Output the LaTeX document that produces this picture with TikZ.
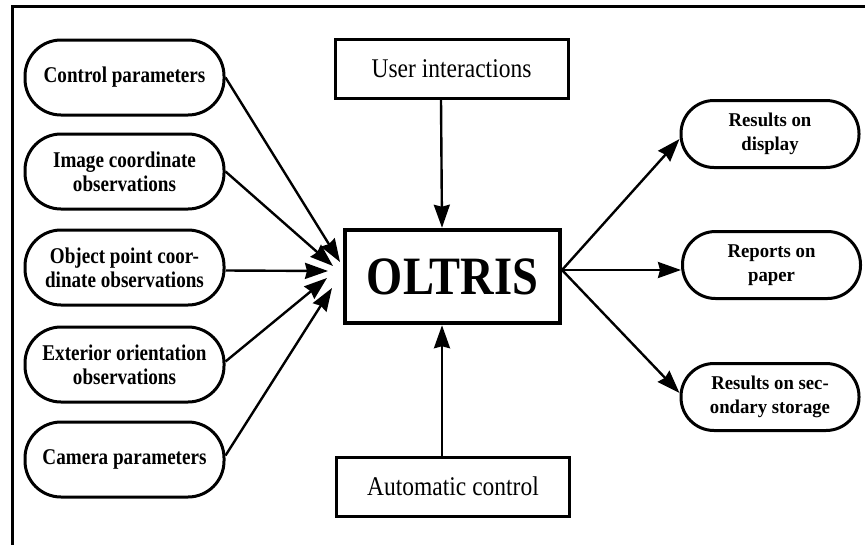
\documentclass[tikz,border=0pt]{standalone}
\usepackage{fontspec}
\setmainfont{Liberation Serif}
\newfontfamily\pillserif[FakeStretch=0.85]{Liberation Serif}
\newfontfamily\outserif[FakeStretch=0.96]{Liberation Serif}
\newfontfamily\boxserif[FakeStretch=0.87]{Liberation Serif}
\newfontfamily\coreserif[FakeStretch=0.86]{Liberation Serif}
\usetikzlibrary{arrows.meta}

\tikzset{
  inpill/.style={draw, line width=3pt, rounded corners=36pt,
    minimum width=199pt, minimum height=75pt, inner sep=0pt, align=center,
    font=\pillserif\bfseries\fontsize{22.5}{24}\selectfont},
  outpill/.style={draw, line width=3pt, rounded corners=33pt,
    minimum width=178pt, minimum height=67pt, inner sep=0pt, align=center,
    font=\outserif\bfseries\fontsize{19.5}{24}\selectfont},
  ctrlbox/.style={draw, line width=3pt, minimum width=233pt,
    minimum height=59pt, inner sep=0pt,
    font=\boxserif\fontsize{27}{30}\selectfont},
  corebox/.style={draw, line width=4.5pt, minimum width=215pt,
    minimum height=93pt, inner sep=0pt,
    font=\coreserif\bfseries\fontsize{54}{60}\selectfont},
  flow/.style={line width=2.4pt,
    -{Stealth[length=23pt 0,width=16pt 0,inset=2pt 0]}},
  frameline/.style={line width=2.6pt}
}

\begin{document}
\begin{tikzpicture}[x=1pt,y=-1pt]
  \useasboundingbox (0,0) rectangle (865,544);

  % outer frame
  \draw[frameline] (12.5,550) -- (12.5,6.5) -- (870,6.5);

  % central program
  \node[corebox] (core) at (452.5,276.5) {OLTRIS};

  % inputs
  \node[inpill] (ctl) at (124.5,77.5)  {Control parameters};
  \node[inpill] (img) at (124.5,171.5) {Image coordinate\\observations};
  \node[inpill] (obj) at (124.5,267.5) {Object point coor-\\dinate observations};
  \node[inpill] (ext) at (124.5,364.5) {Exterior orientation\\observations};
  \node[inpill] (cam) at (124.5,459.5) {Camera parameters};

  % control sources
  \node[ctrlbox] (usr) at (451.5,68.5)  {User interactions};
  \node[ctrlbox] (aut) at (453,486.5)   {Automatic control};

  % outputs
  \node[outpill] (dsp) at (770,134)  {Results on\\display};
  \node[outpill] (rep) at (771.5,265) {Reports on\\paper};
  \node[outpill] (sto) at (770,397)  {Results on sec-\\ondary storage};

  % arrow tips gathering at the left side of the core
  \coordinate (t1) at (340,262);
  \coordinate (t2) at (333,266);
  \coordinate (t3) at (328,271);
  \coordinate (t4) at (327,278);
  \coordinate (t5) at (332,288);
  \coordinate (src) at (562,270);

  \draw[flow] (ctl.east) -- (t1);
  \draw[flow] (img.east) -- (t2);
  \draw[flow] ([yshift=-3pt]obj.east) -- (t3);
  \draw[flow] ([yshift=3pt]ext.east) -- (t4);
  \draw[flow] ([yshift=4pt]cam.east) -- (t5);

  \draw[flow] ([xshift=-10.5pt]usr.south) -- ([xshift=-10.5pt]core.north);
  \draw[flow] ([xshift=-11pt]aut.north) -- ([xshift=-10.5pt]core.south);

  \draw[flow] (src) -- ([yshift=-5pt]dsp.west);
  \draw[flow] (src) -- ([yshift=-5pt]rep.west);
  \draw[flow] (src) -- ([yshift=4pt]sto.west);
\end{tikzpicture}
\end{document}
